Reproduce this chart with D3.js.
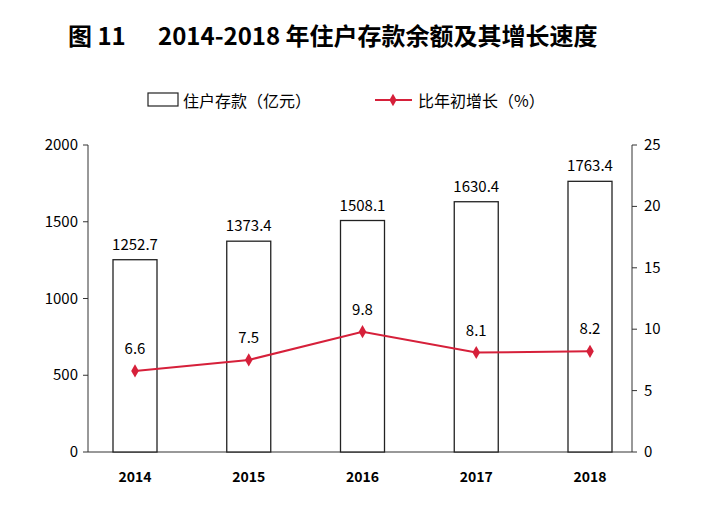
<!DOCTYPE html><html><head><meta charset="utf-8"><script src="https://cdn.jsdelivr.net/npm/d3@7"></script>
<style>body{margin:0;background:#fff}</style></head><body><svg id="c" width="720" height="508"></svg>
<script>
const years=["2014","2015","2016","2017","2018"];
const deposits=[1252.7,1373.4,1508.1,1630.4,1763.4];
const growth=[6.6,7.5,9.8,8.1,8.2];
const leftTicks=[0,500,1000,1500,2000];
const rightTicks=[0,5,10,15,20,25];
const svg=d3.select("#c");
const F="'Noto Sans CJK SC',sans-serif";
const L=88,R=632,T=145,B=452,BW=44;
const x=d3.scalePoint().domain(years).range([135,590]);
const y=d3.scaleLinear().domain([0,2000]).range([B,T]);
const y2=d3.scaleLinear().domain([0,25]).range([B,T]);
const tt=svg.append("text").attr("y",45).attr("font-family",F).attr("font-weight","bold").attr("font-size",24);
tt.append("tspan").attr("x",68).text("图 11");
tt.append("tspan").attr("x",158).text("2014-2018 年住户存款余额及其增长速度");
// legend
svg.append("rect").attr("x",148).attr("y",93).attr("width",30).attr("height",13).attr("fill","#fff").attr("stroke","#222").attr("stroke-width",1.2);
svg.append("text").attr("x",183).attr("y",107).attr("font-family",F).attr("font-size",16).text("住户存款（亿元）");
svg.append("line").attr("x1",375).attr("x2",412).attr("y1",100).attr("y2",100).attr("stroke","#d6203a").attr("stroke-width",2);
svg.append("path").attr("d",d3.symbol(d3.symbolDiamond,45)).attr("transform","translate(393,100)").attr("fill","#d6203a");
svg.append("text").attr("x",418).attr("y",107).attr("font-family",F).attr("font-size",16).text("比年初增长（%）");
// axes
const ga=svg.append("g").attr("font-family",F).attr("font-size",15);
ga.append("line").attr("x1",L).attr("x2",L).attr("y1",T).attr("y2",B).attr("stroke","#333");
ga.append("line").attr("x1",R).attr("x2",R).attr("y1",T).attr("y2",B).attr("stroke","#333");
ga.append("line").attr("x1",L).attr("x2",R).attr("y1",B).attr("y2",B).attr("stroke","#333");
leftTicks.forEach(t=>{ga.append("line").attr("x1",L-5).attr("x2",L).attr("y1",y(t)).attr("y2",y(t)).attr("stroke","#333");
 ga.append("text").attr("x",L-10).attr("y",y(t)+5).attr("text-anchor","end").text(t);});
rightTicks.forEach(t=>{ga.append("line").attr("x1",R).attr("x2",R+5).attr("y1",y2(t)).attr("y2",y2(t)).attr("stroke","#333");
 ga.append("text").attr("x",R+12).attr("y",y2(t)+5).text(t);});
years.forEach(yr=>ga.append("text").attr("x",x(yr)).attr("y",B+30).attr("text-anchor","middle").attr("font-size",14).attr("font-weight","bold").text(yr));
// bars
svg.selectAll(".b").data(deposits).join("rect").attr("x",(d,i)=>x(years[i])-BW/2).attr("y",d=>y(d)).attr("width",BW).attr("height",d=>B-y(d)).attr("fill","#fff").attr("stroke","#222").attr("stroke-width",1.3);
svg.selectAll(".bl").data(deposits).join("text").attr("x",(d,i)=>x(years[i])).attr("y",d=>y(d)-10).attr("text-anchor","middle").attr("font-family",F).attr("font-size",15).text(d=>d.toFixed(1));
// line
const cx=i=>x(years[i]);
svg.append("path").attr("d",d3.line().x((d,i)=>cx(i)).y(d=>y2(d))(growth)).attr("fill","none").attr("stroke","#d6203a").attr("stroke-width",2);
svg.selectAll(".m").data(growth).join("path").attr("d",d3.symbol(d3.symbolDiamond,50)).attr("transform",(d,i)=>`translate(${cx(i)},${y2(d)})`).attr("fill","#d6203a");
svg.selectAll(".ml").data(growth).join("text").attr("x",(d,i)=>cx(i)).attr("y",d=>y2(d)-17).attr("text-anchor","middle").attr("font-family",F).attr("font-size",15).text(d=>d.toFixed(1));
</script></body></html>
